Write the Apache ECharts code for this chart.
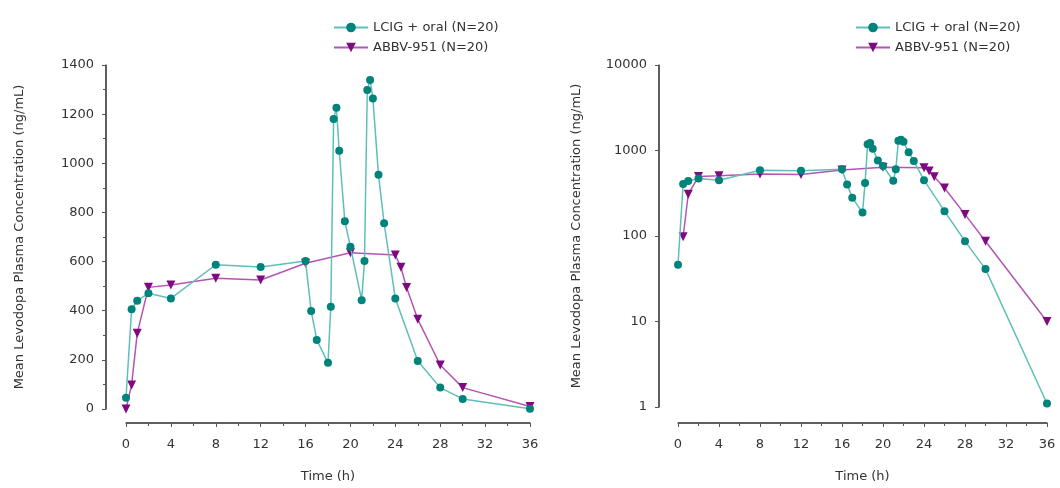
<!DOCTYPE html>
<html>
<head>
<meta charset="utf-8">
<script src="https://cdn.jsdelivr.net/npm/echarts@6/dist/echarts.min.js"></script>
<style>
  html, body { margin: 0; padding: 0; background: #fff; }
  #chart { width: 1060px; height: 488px; }
</style>
</head>
<body>
<div id="chart"></div>
<script>
// sampling times (h) and mean levodopa concentrations (ng/mL)
var lcigTime = [0, 0.5, 1, 2, 4, 8, 12, 16, 16.5, 17, 18, 18.25, 18.5, 18.75, 19, 19.5, 20, 21, 21.25, 21.5, 21.75, 22, 22.5, 23, 24, 26, 28, 30, 36];
var lcigConc = [46, 406, 441, 471, 450, 587, 578, 602, 399, 281, 188, 416, 1180, 1226, 1051, 764, 660, 443, 602, 1298, 1339, 1264, 953, 756, 450, 195, 87, 41, 1.1];
var abbvTime = [0, 0.5, 1, 2, 4, 8, 12, 16, 20, 24, 24.5, 25, 26, 28, 30, 36];
var abbvConc = [0, 98, 308, 495, 505, 532, 525, 593, 636, 627, 577, 494, 365, 179, 87, 10];

var linLabels = ['0', '200', '400', '600', '800', '1000', '1200', '1400'];
var xLabels = ['0', '4', '8', '12', '16', '20', '24', '28', '32', '36'];

var lcigName = 'LCIG + oral (N=20)';
var abbvName = 'ABBV-951 (N=20)';
var yName = 'Mean Levodopa Plasma Concentration (ng/mL)';

var FONT = 'DejaVu Sans';
var axisColor = '#555';
var textColor = '#333';

function pairs(t, v, logScale) {
  return t.map(function (x, i) {
    var y = v[i];
    if (logScale && !(y > 0)) y = '-';
    return [x, y];
  });
}

// partner axis that draws nothing (keeps its grid complete)
function blank(gridIndex, min, max) {
  return {
    gridIndex: gridIndex, type: 'value', min: min, max: max,
    axisLine: { show: false }, axisTick: { show: false },
    axisLabel: { show: false }, splitLine: { show: false }
  };
}

// visible time axis, in its own grid a bit below the plot
function timeAxis(gridIndex) {
  return {
    gridIndex: gridIndex,
    type: 'value',
    min: 0, max: 36, interval: 4,
    name: 'Time (h)',
    nameLocation: 'middle',
    nameGap: 47,
    nameTextStyle: { fontFamily: FONT, fontSize: 13, color: textColor },
    axisLine: { show: true, onZero: false, lineStyle: { color: axisColor, width: 1.5 } },
    axisTick: { show: true, length: 4, lineStyle: { color: axisColor } },
    minorTick: { show: true, splitNumber: 2, length: 3, lineStyle: { color: axisColor } },
    axisLabel: {
      margin: 15, fontFamily: FONT, fontSize: 13, color: textColor,
      formatter: function (v) { return xLabels[v / 4]; }
    },
    splitLine: { show: false },
    minorSplitLine: { show: false }
  };
}

function concAxis(gridIndex, nameGap) {
  return {
    gridIndex: gridIndex,
    name: yName,
    nameLocation: 'middle',
    nameGap: nameGap,
    nameRotate: 90,
    nameTextStyle: { fontFamily: FONT, fontSize: 13, color: textColor },
    axisLine: { show: true, onZero: false, lineStyle: { color: axisColor, width: 1.5 } },
    axisTick: { show: true, length: 4, lineStyle: { color: axisColor } },
    axisLabel: { margin: 12, fontFamily: FONT, fontSize: 13, color: textColor },
    splitLine: { show: false }
  };
}

var yLin = concAxis(1, 80);
yLin.type = 'value';
yLin.min = 0; yLin.max = 1400; yLin.interval = 200;
yLin.minorTick = { show: true, splitNumber: 2, length: 3, lineStyle: { color: axisColor } };
yLin.minorSplitLine = { show: false };
yLin.axisLabel.formatter = function (v) { return linLabels[v / 200]; };

var yLog = concAxis(4, 76);
yLog.type = 'log';
yLog.logBase = 10;
yLog.min = 1; yLog.max = 10000;
yLog.axisLabel.formatter = function (v) { return String(Math.round(v)); };

function lcigSeries(idx, logScale) {
  return {
    name: lcigName, type: 'line',
    xAxisIndex: idx, yAxisIndex: idx,
    data: pairs(lcigTime, lcigConc, logScale),
    symbol: 'circle', symbolSize: 8,
    lineStyle: { color: '#5fbfb8', width: 1.5 },
    itemStyle: { color: '#00837b' },
    z: 3, animation: false
  };
}

function abbvSeries(idx, logScale) {
  return {
    name: abbvName, type: 'line',
    xAxisIndex: idx, yAxisIndex: idx,
    data: pairs(abbvTime, abbvConc, logScale),
    symbol: 'triangle', symbolRotate: 180, symbolSize: 9,
    lineStyle: { color: '#b455b4', width: 1.5 },
    itemStyle: { color: '#7e0a80' },
    z: 2, animation: false
  };
}

// axis spine drawn through the axis' own scale (the axisLine doesn't show up here)
function spine(idx, from, to) {
  return {
    type: 'line', xAxisIndex: idx, yAxisIndex: idx,
    data: [from, to],
    symbol: 'none', silent: true, clip: false,
    lineStyle: { color: axisColor, width: 1.5 },
    z: 1, animation: false
  };
}

function legendAt(left) {
  return {
    left: left, top: 16,
    orient: 'vertical',
    itemWidth: 34, itemHeight: 12, itemGap: 7,
    data: [lcigName, abbvName],
    textStyle: { fontFamily: FONT, fontSize: 13, color: textColor }
  };
}

var dataLinY = blank(0, 0, 1400);
var dataLogY = blank(3, 1, 10000);
dataLogY.type = 'log';
dataLogY.logBase = 10;

var chart = echarts.init(document.getElementById('chart'));
chart.setOption({
  animation: false,
  legend: [legendAt(328), legendAt(850)],
  grid: [
    // left: plot, y axis, x axis
    { left: 126, top: 65, width: 404, height: 344 },
    { left: 106, top: 65, width: 424, height: 344 },
    { left: 126, top: 65, width: 404, height: 360 },
    // right: plot, y axis, x axis
    { left: 678, top: 65, width: 369, height: 342 },
    { left: 659, top: 65, width: 388, height: 342 },
    { left: 678, top: 65, width: 369, height: 360 }
  ],
  xAxis: [
    blank(0, 0, 36), blank(1, 0, 1), timeAxis(2),
    blank(3, 0, 36), blank(4, 0, 1), timeAxis(5)
  ],
  yAxis: [
    dataLinY, yLin, blank(2, 0, 1),
    dataLogY, yLog, blank(5, 0, 1)
  ],
  series: [
    lcigSeries(0, false), abbvSeries(0, false),
    lcigSeries(3, true), abbvSeries(3, true),
    spine(1, [0, 0], [0, 1400]), spine(2, [0, 0], [36, 0]),
    spine(4, [0, 1], [0, 10000]), spine(5, [0, 0], [36, 0])
  ]
});
</script>
</body>
</html>
